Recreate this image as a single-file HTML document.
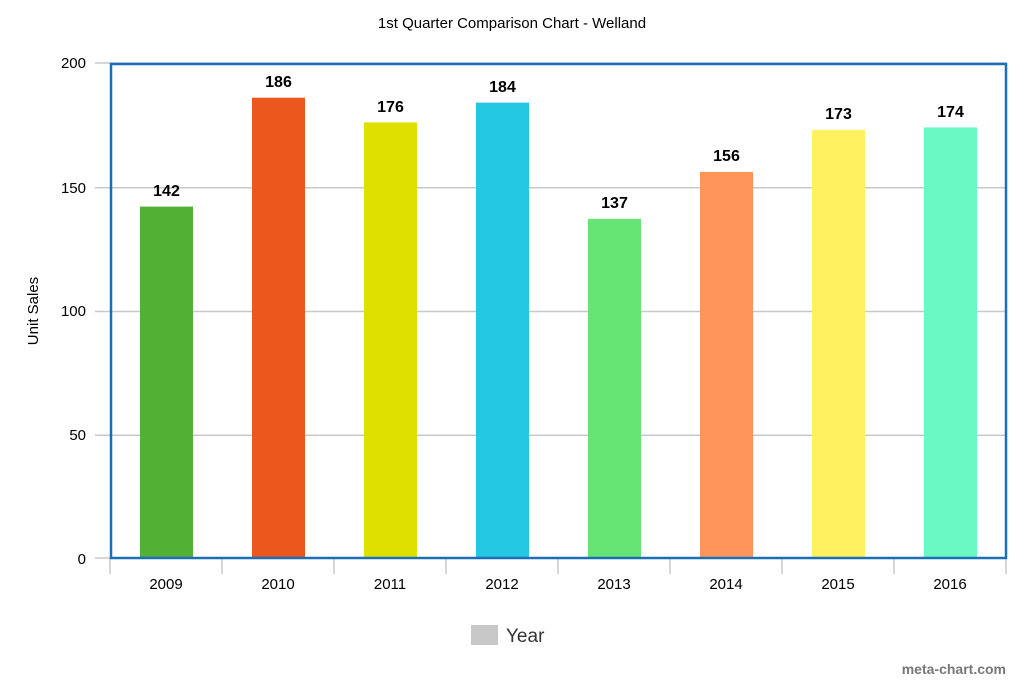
<!DOCTYPE html>
<html><head><meta charset="utf-8"><style>body{margin:0;background:#fff}svg{display:block}</style></head><body>
<svg width="1024" height="683" xmlns="http://www.w3.org/2000/svg" font-family="Liberation Sans, sans-serif">
<rect width="1024" height="683" fill="#fff"/>
<text x="512" y="28" text-anchor="middle" font-size="15" fill="#000">1st Quarter Comparison Chart - Welland</text>
<g stroke="#c8c8c8" stroke-width="1.5">
<line x1="95" y1="63" x2="1006" y2="63"/>
<line x1="95" y1="187.75" x2="1006" y2="187.75"/>
<line x1="95" y1="311.5" x2="1006" y2="311.5"/>
<line x1="95" y1="435.25" x2="1006" y2="435.25"/>
<line x1="95" y1="558" x2="110" y2="558"/>
<line x1="110" y1="558" x2="110" y2="574"/><line x1="222" y1="558" x2="222" y2="574"/><line x1="334" y1="558" x2="334" y2="574"/><line x1="446" y1="558" x2="446" y2="574"/><line x1="558" y1="558" x2="558" y2="574"/><line x1="670" y1="558" x2="670" y2="574"/><line x1="782" y1="558" x2="782" y2="574"/><line x1="894" y1="558" x2="894" y2="574"/><line x1="1006" y1="558" x2="1006" y2="574"/>
</g>
<g font-size="15" text-anchor="end" fill="#000">
<text x="86" y="68">200</text><text x="86" y="193">150</text><text x="86" y="316">100</text><text x="86" y="440">50</text><text x="86" y="564">0</text>
</g>
<text transform="translate(38,311) rotate(-90)" text-anchor="middle" font-size="15">Unit Sales</text>
<g>
<rect x="140" y="206.6" width="53" height="351.4" fill="#52b134"/>
<rect x="252" y="97.7" width="53" height="460.3" fill="#eb571c"/>
<rect x="364" y="122.4" width="53" height="435.6" fill="#dfe000"/>
<rect x="476" y="102.6" width="53" height="455.4" fill="#25c8e3"/>
<rect x="588" y="218.9" width="53" height="339.1" fill="#66e574"/>
<rect x="700" y="171.9" width="53" height="386.1" fill="#ff955a"/>
<rect x="812" y="129.8" width="53" height="428.2" fill="#fff160"/>
<rect x="924" y="127.4" width="53" height="430.6" fill="#6af8c3"/>
</g>
<g font-size="16" font-weight="bold" text-anchor="middle">
<text x="166.5" y="196">142</text><text x="278.5" y="87">186</text><text x="390.5" y="112">176</text><text x="502.5" y="92">184</text><text x="614.5" y="208">137</text><text x="726.5" y="161">156</text><text x="838.5" y="119">173</text><text x="950.5" y="117">174</text>
</g>
<rect x="111" y="64" width="895" height="494" fill="none" stroke="#1b6fb8" stroke-width="2.5"/>
<g font-size="15" text-anchor="middle">
<text x="166" y="589">2009</text><text x="278" y="589">2010</text><text x="390" y="589">2011</text><text x="502" y="589">2012</text><text x="614" y="589">2013</text><text x="726" y="589">2014</text><text x="838" y="589">2015</text><text x="950" y="589">2016</text>
</g>
<rect x="471" y="625" width="27" height="20" fill="#c8c8c8"/>
<text x="506" y="642" font-size="19" fill="#333">Year</text>
<text x="1006" y="674" text-anchor="end" font-size="14" fill="#777" font-weight="bold">meta-chart.com</text>
</svg>
</body></html>
